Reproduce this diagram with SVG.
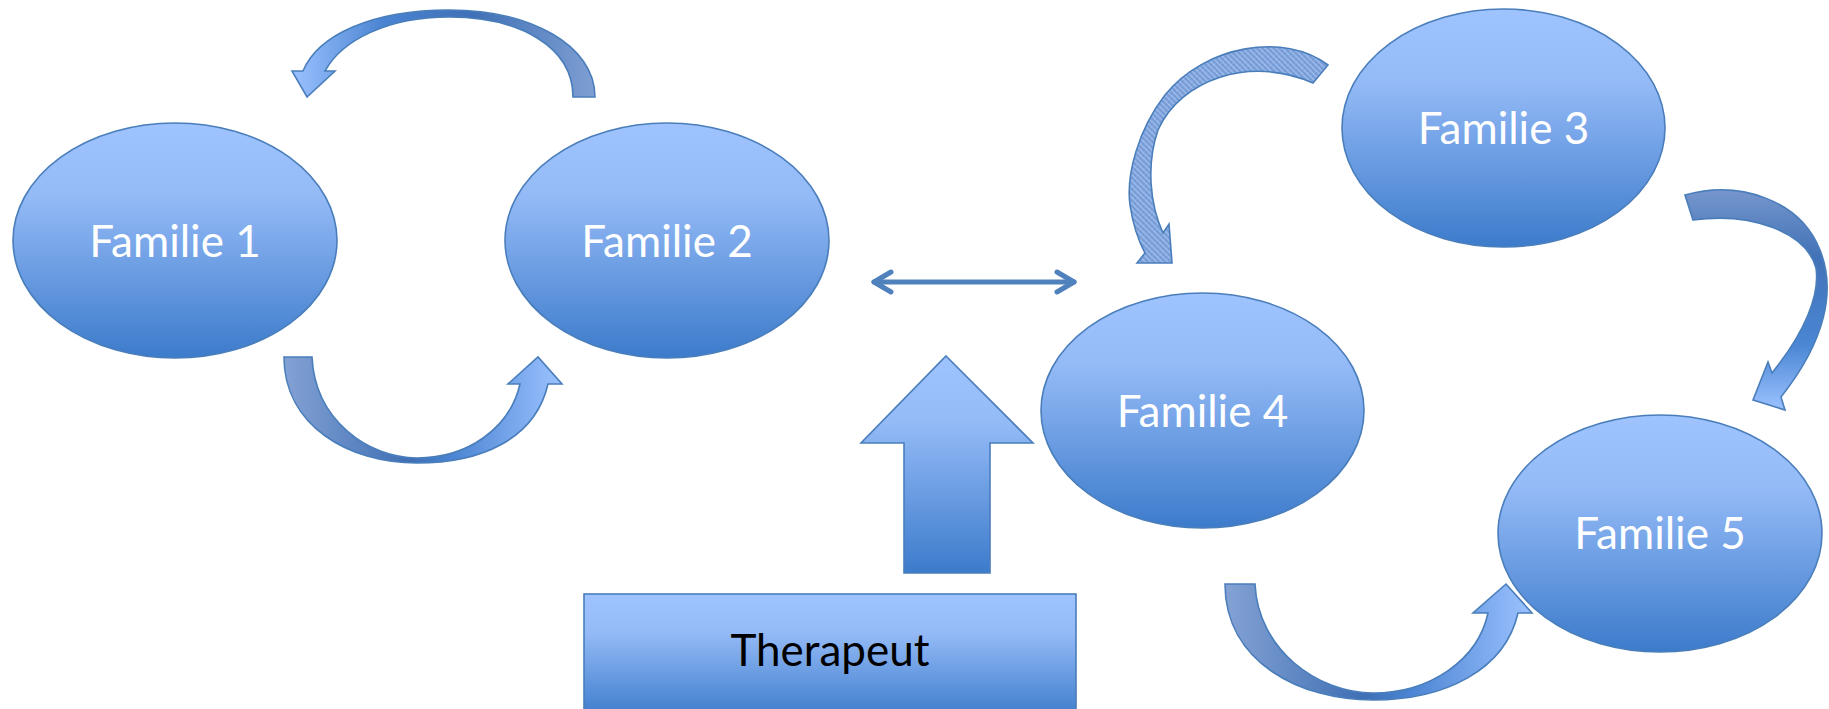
<svg xmlns="http://www.w3.org/2000/svg" width="1829" height="709" viewBox="0 0 1829 709">
<defs>
<linearGradient id="gv" x1="0" y1="0" x2="0" y2="1">
<stop offset="0" stop-color="#9ec3ff"/>
<stop offset="0.3" stop-color="#95bbf7"/>
<stop offset="1" stop-color="#3c7bcb"/>
</linearGradient>
<linearGradient id="gA" x1="0" y1="0" x2="1" y2="0">
<stop offset="0" stop-color="#9cc2ff"/>
<stop offset="0.3" stop-color="#4a84d2"/>
<stop offset="0.6" stop-color="#3f70b6"/>
<stop offset="1" stop-color="#7f9fd2"/>
</linearGradient>
<linearGradient id="gB" x1="0" y1="0" x2="1" y2="0">
<stop offset="0" stop-color="#84a2d4"/>
<stop offset="0.45" stop-color="#3f6fb4"/>
<stop offset="0.6" stop-color="#4a84d2"/>
<stop offset="1" stop-color="#9cc2ff"/>
</linearGradient>
<linearGradient id="gC" x1="0" y1="0" x2="0" y2="1">
<stop offset="0" stop-color="#7f9ed2"/>
<stop offset="0.5" stop-color="#6f98d6"/>
<stop offset="1" stop-color="#aecbf8"/>
</linearGradient>
<linearGradient id="gD" x1="0" y1="0" x2="0" y2="1">
<stop offset="0" stop-color="#7696cc"/>
<stop offset="0.3" stop-color="#4272b7"/>
<stop offset="0.7" stop-color="#4a86d4"/>
<stop offset="1" stop-color="#9cc2ff"/>
</linearGradient>
<pattern id="hatch" width="4" height="4" patternUnits="userSpaceOnUse" patternTransform="rotate(45)">
<rect width="4" height="4" fill="url(#gC)"/>
<line x1="0" y1="0" x2="0" y2="4" stroke="#ffffff" stroke-opacity="0.18" stroke-width="1"/>
</pattern>
</defs>
<style>
.node{fill:url(#gv);stroke:#4a7ebb;stroke-width:1.6}
.lbl{font-family:Lato,"Open Sans","Liberation Sans",sans-serif;font-size:44px;fill:#ffffff;text-anchor:middle}
.lblk{font-family:Lato,"Open Sans","Liberation Sans",sans-serif;font-size:44px;fill:#000000;text-anchor:middle}
.carrow{stroke:#4a7ebb;stroke-width:1.6;stroke-linejoin:miter}
</style>
<g id="connectors">
<path class="carrow" fill="url(#gA)" d="M 595 97 C 595 45 530 10 449 10 C 372 10 318 35 303 71 L 292 71 L 307 97 L 335 71 L 325 71 C 342 40 388 17 449 17 C 520 17 573 47 573 97 Z"/>
<path class="carrow" fill="url(#gB)" d="M 284 357 L 312 357 C 315 420 368 458 417 458 C 468 458 510 428 520 384 L 508 384 L 538 357 L 562 384 L 548 384 C 535 440 480 463 417 463 C 348 463 284 425 284 357 Z"/>
<path class="carrow" fill="url(#hatch)" d="M 1328 65 C 1285 32 1205 45 1165 95 C 1138 130 1126 175 1130 205 C 1133 225 1138 240 1145 253 L 1137 263 L 1172 263 L 1169 224 L 1163 233 C 1150 205 1146 165 1158 130 C 1180 80 1250 55 1313 83 Z"/>
<path class="carrow" fill="url(#gD)" d="M 1685 195 C 1740 180 1800 200 1820 250 C 1836 290 1826 340 1781 397 L 1785 410 L 1753 400 L 1768 362 L 1772 373 C 1805 332 1820 295 1816 268 C 1806 232 1752 212 1693 220 Z"/>
<path class="carrow" fill="url(#gB)" d="M 1225 584 L 1255 584 C 1258 650 1318 693 1373 693 C 1430 693 1478 660 1488 613 L 1473 613 L 1506 584 L 1532 613 L 1518 613 C 1505 670 1445 700 1373 700 C 1300 700 1225 662 1225 584 Z"/>
<g stroke="#4f81bd" stroke-width="5" stroke-linecap="round" stroke-linejoin="round" fill="none">
<line x1="874" y1="282" x2="1074" y2="282"/>
<polyline points="891,272 874,282 891,292"/>
<polyline points="1057,272 1074,282 1057,292"/>
</g>
<path class="carrow" fill="url(#gv)" d="M 946 356 L 1033 443 L 990 443 L 990 573 L 904 573 L 904 443 L 861 443 Z"/>
</g>
<g id="familie1"><ellipse class="node" cx="175" cy="240.5" rx="162" ry="117.5"/><text class="lbl" x="175" y="257">Familie 1</text></g>
<g id="familie2"><ellipse class="node" cx="667" cy="240.5" rx="162" ry="117.5"/><text class="lbl" x="667" y="257">Familie 2</text></g>
<g id="familie3"><ellipse class="node" cx="1503.5" cy="128" rx="161.5" ry="119"/><text class="lbl" x="1503.5" y="144">Familie 3</text></g>
<g id="familie4"><ellipse class="node" cx="1202.5" cy="410.5" rx="161.5" ry="117.5"/><text class="lbl" x="1202.5" y="427">Familie 4</text></g>
<g id="familie5"><ellipse class="node" cx="1660" cy="533.5" rx="162" ry="118.5"/><text class="lbl" x="1660" y="549">Familie 5</text></g>
<g id="therapeut"><rect class="node" x="584" y="594" width="492" height="125"/><text class="lblk" x="830" y="666">Therapeut</text></g>
</svg>
